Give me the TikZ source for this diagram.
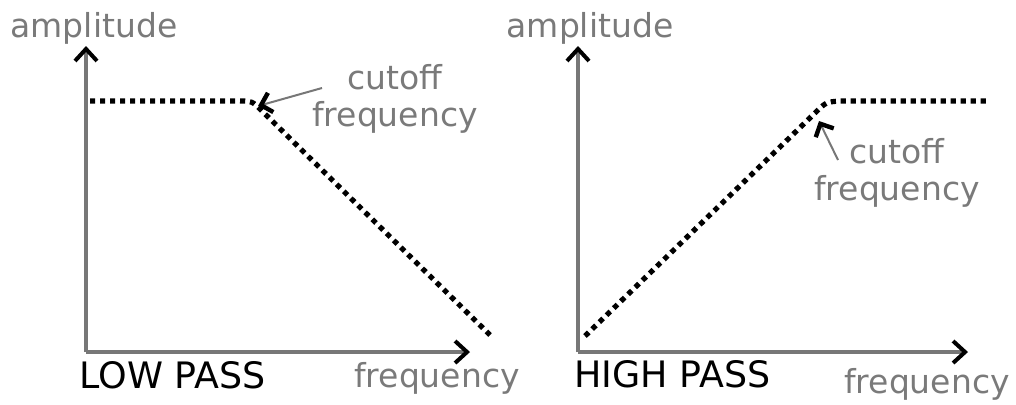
\documentclass[tikz,border=0pt]{standalone}
\usepackage{fontspec}
\setmainfont{DejaVu Sans}
\usetikzlibrary{arrows.meta}
\definecolor{axisgray}{RGB}{119,119,119}
\definecolor{textgray}{RGB}{122,122,122}
\begin{document}
\begin{tikzpicture}[x=0.5pt, y=-0.5pt,
	every node/.style = {inner sep=0pt, font=\fontsize{16.5}{18.5}\selectfont},
	axis/.style = {axisgray, line width=2pt, -{Straight Barb[black, length=6pt, width=11pt]}},
	response/.style = {black, line width=2.6pt, dash pattern=on 2.6pt off 2.4pt},
	pointer/.style = {axisgray, line width=1pt, -{Straight Barb[black, line width=2.2pt, length=5pt, width=10pt]}},
	label/.style = {textgray},
	title/.style = {black, font=\fontsize{18.2}{20}\selectfont}]
		\useasboundingbox (0,0) rectangle (1016,404);
		% low pass
		\coordinate (lo) at (86,352);
		\coordinate (ly) at (86,46);
		\coordinate (lx) at (470,352);
		\draw[axis] (lo) -- (ly);
		\draw[axis] (lo) -- (lx);
		\coordinate (lstart) at (90,101);
		\coordinate (lknee) at (258,106);
		\coordinate (lend) at (490,335);
		\draw[response] (lstart) -- (240,101) .. controls (252,101) .. (262,111) -- (lend);
		\node[label, anchor=base] (lamp) at (94,37) {amplitude};
		\node[title, anchor=base west] (lname) at (79,388) {LOW PASS};
		\node[label, anchor=base] (lfreq) at (437,387) {frequency};
		\node[label, align=center] (lcut) at (395,99) {cutoff\\frequency};
		\coordinate (ltail) at (322,88);
		\draw[pointer] (ltail) -- (lknee);
		% high pass
		\coordinate (ho) at (578,352);
		\coordinate (hy) at (578,46);
		\coordinate (hx) at (968,352);
		\draw[axis] (ho) -- (hy);
		\draw[axis] (ho) -- (hx);
		\coordinate (hstart) at (585,336);
		\coordinate (hknee) at (819,121);
		\coordinate (hend) at (988,101);
		\draw[response] (hstart) -- (815,113) .. controls (826,102) .. (840,101) -- (hend);
		\node[label, anchor=base] (hamp) at (590,37) {amplitude};
		\node[title, anchor=base west] (hname) at (574,387) {HIGH PASS};
		\node[label, anchor=base] (hfreq) at (927,393) {frequency};
		\node[label, align=center] (hcut) at (897,173) {cutoff\\frequency};
		\coordinate (htail) at (838,160);
		\draw[pointer] (htail) -- (hknee);
\end{tikzpicture}
\end{document}
